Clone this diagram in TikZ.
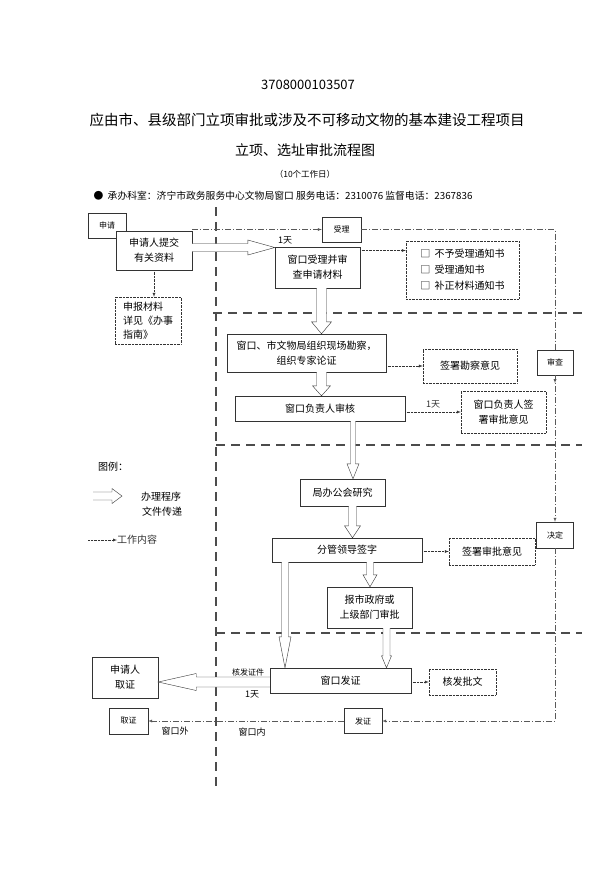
\documentclass[tikz,border=0pt]{standalone}
\usepackage{fontspec}
\setmainfont{Noto Sans CJK SC}
\usetikzlibrary{calc}

\tikzset{
  box/.style={draw=black!80, thin, fill=white, inner sep=1pt, align=center,
    font=\fontsize{10}{15}\selectfont},
  dotbox/.style={box, densely dotted},
  tag/.style={draw=black!80, thin, fill=white, inner sep=1pt,
    font=\fontsize{8}{10}\selectfont},
  work/.style={black!80, densely dotted, -latex},
  flow/.style={black!65, dash pattern=on 6pt off 2pt on 1pt off 2pt},
  zone/.style={black!70, line width=1.8pt, dash pattern=on 9pt off 6pt},
  fat/.style={black!80, thin, fill=white},
  note/.style={font=\fontsize{9}{11}\selectfont},
}

% hollow arrows: shaft half width, head half width, head length, from, to
\newcommand{\fatdown}[5]{%
  \draw[fat] let \p1=#4, \p2=#5 in
    (\x1-#1pt,\y1) -- (\x1-#1pt,\y2+#3pt) -- (\x1-#2pt,\y2+#3pt) -- (\x1,\y2)
    -- (\x1+#2pt,\y2+#3pt) -- (\x1+#1pt,\y2+#3pt) -- (\x1+#1pt,\y1);}
\newcommand{\fatright}[5]{%
  \draw[fat] let \p1=#4, \p2=#5 in
    (\x1,\y1+#1pt) -- (\x2-#3pt,\y1+#1pt) -- (\x2-#3pt,\y1+#2pt) -- (\x2,\y1)
    -- (\x2-#3pt,\y1-#2pt) -- (\x2-#3pt,\y1-#1pt) -- (\x1,\y1-#1pt);}
\newcommand{\fatleft}[5]{%
  \draw[fat] let \p1=#4, \p2=#5 in
    (\x1,\y1+#1pt) -- (\x2+#3pt,\y1+#1pt) -- (\x2+#3pt,\y1+#2pt) -- (\x2,\y1)
    -- (\x2+#3pt,\y1-#2pt) -- (\x2+#3pt,\y1-#1pt) -- (\x1,\y1-#1pt);}

\begin{document}
\begin{tikzpicture}[x=1pt,y=-1pt]
\useasboundingbox[fill=white] (0,0) rectangle (599,878);

% heading
\node[font=\fontsize{13}{15}\selectfont] (code) at (308,85) {3708000103507};
\node[font=\fontsize{14.5}{17}\selectfont] (title) at (307,120)
  {应由市、县级部门立项审批或涉及不可移动文物的基本建设工程项目};
\node[font=\fontsize{14}{17}\selectfont] (title2) at (305,150) {立项、选址审批流程图};
\node[font=\fontsize{8.5}{10}\selectfont] (days) at (305,174) {（10个工作日）};
\node[anchor=west, font=\fontsize{9.8}{12}\selectfont] (office) at (90,196)
  {●\ \ 承办科室：济宁市政务服务中心文物局窗口 服务电话：2310076 监督电话：2367836};

% zones
\draw[zone] (216,207) -- (216,790);
\draw[zone] (213,313) -- (582,313);
\draw[zone] (216,445) -- (582,445);
\draw[zone] (216,633) -- (582,633);

% nodes
\node[tag, minimum width=38pt, minimum height=25pt] (apply) at (107,225.5) {申请};
\node[box, minimum width=76pt, minimum height=39pt] (app) at (154,250.5)
  {申请人提交\\有关资料};
\node[dotbox, align=left, minimum width=66pt, minimum height=47pt,
  font=\fontsize{10}{14}\selectfont] (guide) at (148,320.5)
  {申报材料\\详见《办事\\指南》};
\node[tag, minimum width=39pt, minimum height=25pt] (acpt) at (341.5,229.5) {受理};
\node[box, minimum width=85pt, minimum height=41pt] (acc) at (317.5,267.5)
  {窗口受理并审\\查申请材料};
\node[dotbox, align=left, minimum width=113pt, minimum height=58pt,
  font=\fontsize{10}{16}\selectfont] (notice) at (462.5,270)
  {□\ \ 不予受理通知书\\□\ \ 受理通知书\\□\ \ 补正材料通知书};
\node[box, minimum width=159pt, minimum height=38pt] (survey) at (306.5,353)
  {窗口、市文物局组织现场勘察，\\组织专家论证};
\node[dotbox, minimum width=94pt, minimum height=34pt] (sopin) at (470,366)
  {签署勘察意见};
\node[box, minimum width=170pt, minimum height=25pt] (review) at (320,408.5)
  {窗口负责人审核};
\node[dotbox, minimum width=85pt, minimum height=42pt] (rsign) at (503.5,412)
  {窗口负责人签\\署审批意见};
\node[tag, minimum width=36pt, minimum height=25pt] (check) at (555,362.5) {审查};
\node[box, minimum width=85pt, minimum height=27pt] (meet) at (342.5,492.5)
  {局办公会研究};
\node[box, minimum width=150pt, minimum height=24pt] (lead) at (347,550)
  {分管领导签字};
\node[dotbox, minimum width=86pt, minimum height=27pt] (lsign) at (492,551.5)
  {签署审批意见};
\node[tag, minimum width=37pt, minimum height=26pt] (decide) at (555,535) {决定};
\node[box, minimum width=85pt, minimum height=41pt] (gov) at (369.5,607.5)
  {报市政府或\\上级部门审批};
\node[box, minimum width=141pt, minimum height=25pt] (issue) at (340.5,680.5)
  {窗口发证};
\node[dotbox, minimum width=67pt, minimum height=26pt] (batch) at (462.5,682)
  {核发批文};
\node[box, minimum width=66pt, minimum height=41pt] (taker) at (125,677.5)
  {申请人\\取证};
\node[tag, minimum width=38pt, minimum height=25pt] (send) at (363,721) {发证};
\node[tag, minimum width=39pt, minimum height=26pt] (take) at (128.5,721) {取证};

% main flow
\fatright{4}{7.5}{27}{([yshift=3pt]app.east)}{(acc.north west)}
\node[note] (d1) at (285,240) {1天};
\fatdown{5}{10}{12}{([xshift=4pt]acc.south)}{(survey.north)}
\fatdown{5}{9}{10}{([xshift=15pt]survey.south)}{(review.north)}
\fatdown{2.5}{6}{15}{([xshift=33pt]review.south)}{(meet.north)}
\fatdown{4}{8}{12}{([xshift=10pt]meet.south)}{(lead.north)}
\fatdown{3.5}{7}{12}{([xshift=23pt]lead.south)}{(gov.north)}
\fatdown{3.5}{5}{12}{([xshift=17pt]gov.south)}{(issue.north)}
\fatdown{3.5}{6}{31}{([xshift=-62pt]lead.south)}{(issue.north)}
\fatleft{5}{8.5}{38}{([yshift=-1.5pt]issue.west)}{(taker.east)}
\node[font=\fontsize{8}{10}\selectfont] (card) at (248,672) {核发证件};
\node[note] (d2) at (252,694) {1天};

% work content
\draw[work] (app.south) -- (app.south |- guide.north);
\draw[work] ([yshift=17pt]acc.east) -- ([yshift=17pt]acc.east -| notice.west);
\draw[work] (survey.east |- sopin.west) -- (sopin.west);
\draw[work] (review.east |- rsign.west) -- node[note, above] {1天} (rsign.west);
\draw[work] (lead.east |- lsign.west) -- (lsign.west);
\draw[work] (issue.east |- batch.west) -- (batch.west);

% document passing
\draw[flow, -latex] (acpt.west -| app.east) -- (acpt.west);
\draw[flow] (acpt.east) -| (check.north);
\draw[flow, -latex] (check.south) -- ([yshift=-8pt]check.south);
\draw[flow, -latex] (check.south) -- (decide.north);
\draw[flow, -latex] (decide.south) |- (send.east);
\draw[flow, -latex] (send.west) -- (take.east);

\node[note] (side1) at (175,731) {窗口外};
\node[note] (side2) at (252,732) {窗口内};

% legend
\node[font=\fontsize{10}{12}\selectfont] (legend) at (113,467) {图例：};
\coordinate (la) at (93,496);
\coordinate (lb) at (122,496);
\fatright{4}{7.5}{10}{(la)}{(lb)}
\node[font=\fontsize{10}{15}\selectfont, align=center] (ltext) at (161,504)
  {办理程序\\\ 文件传递};
\coordinate (lc) at (88,540);
\coordinate (ld) at (117,540);
\draw[work] (lc) -- (ld) node[right, inner sep=0pt, font=\fontsize{10}{12}\selectfont] {工作内容};
\end{tikzpicture}
\end{document}
